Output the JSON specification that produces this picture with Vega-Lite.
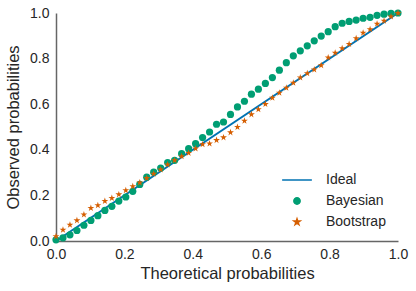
{
  "$schema": "https://vega.github.io/schema/vega-lite/v6.json",
  "autosize": {"type": "none"},
  "padding": {"left": 56, "top": 13, "right": 18, "bottom": 50},
  "width": 342,
  "height": 228,
  "background": "white",
  "config": {
    "view": {"stroke": null},
    "axis": {
      "domainColor": "#666666",
      "domainWidth": 1.5,
      "ticks": false,
      "grid": false,
      "labelFlush": false,
      "labelFont": "Liberation Sans",
      "labelFontSize": 14,
      "labelColor": "#262626",
      "titleFont": "Liberation Sans",
      "titleFontSize": 16.5,
      "titleFontWeight": "normal",
      "titleColor": "#262626",
      "labelPadding": 6
    }
  },
  "data": {"values": [
      {"x": 0, "y": 0, "series": "Ideal"},
      {"x": 1, "y": 1, "series": "Ideal"},
      {"x": 0.0, "y": 0.005, "series": "Bayesian"},
      {"x": 0.0204, "y": 0.014, "series": "Bayesian"},
      {"x": 0.0408, "y": 0.027, "series": "Bayesian"},
      {"x": 0.0612, "y": 0.046, "series": "Bayesian"},
      {"x": 0.0816, "y": 0.069, "series": "Bayesian"},
      {"x": 0.102, "y": 0.09, "series": "Bayesian"},
      {"x": 0.1224, "y": 0.111, "series": "Bayesian"},
      {"x": 0.1429, "y": 0.134, "series": "Bayesian"},
      {"x": 0.1633, "y": 0.152, "series": "Bayesian"},
      {"x": 0.1837, "y": 0.175, "series": "Bayesian"},
      {"x": 0.2041, "y": 0.193, "series": "Bayesian"},
      {"x": 0.2245, "y": 0.218, "series": "Bayesian"},
      {"x": 0.2449, "y": 0.248, "series": "Bayesian"},
      {"x": 0.2653, "y": 0.28, "series": "Bayesian"},
      {"x": 0.2857, "y": 0.302, "series": "Bayesian"},
      {"x": 0.3061, "y": 0.32, "series": "Bayesian"},
      {"x": 0.3265, "y": 0.344, "series": "Bayesian"},
      {"x": 0.3469, "y": 0.354, "series": "Bayesian"},
      {"x": 0.3673, "y": 0.383, "series": "Bayesian"},
      {"x": 0.3878, "y": 0.405, "series": "Bayesian"},
      {"x": 0.4082, "y": 0.427, "series": "Bayesian"},
      {"x": 0.4286, "y": 0.454, "series": "Bayesian"},
      {"x": 0.449, "y": 0.478, "series": "Bayesian"},
      {"x": 0.4694, "y": 0.512, "series": "Bayesian"},
      {"x": 0.4898, "y": 0.522, "series": "Bayesian"},
      {"x": 0.5102, "y": 0.555, "series": "Bayesian"},
      {"x": 0.5306, "y": 0.588, "series": "Bayesian"},
      {"x": 0.551, "y": 0.613, "series": "Bayesian"},
      {"x": 0.5714, "y": 0.644, "series": "Bayesian"},
      {"x": 0.5918, "y": 0.666, "series": "Bayesian"},
      {"x": 0.6122, "y": 0.691, "series": "Bayesian"},
      {"x": 0.6327, "y": 0.717, "series": "Bayesian"},
      {"x": 0.6531, "y": 0.749, "series": "Bayesian"},
      {"x": 0.6735, "y": 0.782, "series": "Bayesian"},
      {"x": 0.6939, "y": 0.812, "series": "Bayesian"},
      {"x": 0.7143, "y": 0.834, "series": "Bayesian"},
      {"x": 0.7347, "y": 0.856, "series": "Bayesian"},
      {"x": 0.7551, "y": 0.878, "series": "Bayesian"},
      {"x": 0.7755, "y": 0.899, "series": "Bayesian"},
      {"x": 0.7959, "y": 0.918, "series": "Bayesian"},
      {"x": 0.8163, "y": 0.94, "series": "Bayesian"},
      {"x": 0.8367, "y": 0.955, "series": "Bayesian"},
      {"x": 0.8571, "y": 0.963, "series": "Bayesian"},
      {"x": 0.8776, "y": 0.969, "series": "Bayesian"},
      {"x": 0.898, "y": 0.977, "series": "Bayesian"},
      {"x": 0.9184, "y": 0.981, "series": "Bayesian"},
      {"x": 0.9388, "y": 0.99, "series": "Bayesian"},
      {"x": 0.9592, "y": 0.995, "series": "Bayesian"},
      {"x": 0.9796, "y": 0.998, "series": "Bayesian"},
      {"x": 1.0, "y": 1.0, "series": "Bayesian"},
      {"x": 0.0, "y": 0.02, "series": "Bootstrap"},
      {"x": 0.0204, "y": 0.049, "series": "Bootstrap"},
      {"x": 0.0408, "y": 0.071, "series": "Bootstrap"},
      {"x": 0.0612, "y": 0.09, "series": "Bootstrap"},
      {"x": 0.0816, "y": 0.116, "series": "Bootstrap"},
      {"x": 0.102, "y": 0.144, "series": "Bootstrap"},
      {"x": 0.1224, "y": 0.156, "series": "Bootstrap"},
      {"x": 0.1429, "y": 0.175, "series": "Bootstrap"},
      {"x": 0.1633, "y": 0.188, "series": "Bootstrap"},
      {"x": 0.1837, "y": 0.204, "series": "Bootstrap"},
      {"x": 0.2041, "y": 0.222, "series": "Bootstrap"},
      {"x": 0.2245, "y": 0.24, "series": "Bootstrap"},
      {"x": 0.2449, "y": 0.256, "series": "Bootstrap"},
      {"x": 0.2653, "y": 0.276, "series": "Bootstrap"},
      {"x": 0.2857, "y": 0.295, "series": "Bootstrap"},
      {"x": 0.3061, "y": 0.313, "series": "Bootstrap"},
      {"x": 0.3265, "y": 0.335, "series": "Bootstrap"},
      {"x": 0.3469, "y": 0.354, "series": "Bootstrap"},
      {"x": 0.3673, "y": 0.371, "series": "Bootstrap"},
      {"x": 0.3878, "y": 0.386, "series": "Bootstrap"},
      {"x": 0.4082, "y": 0.405, "series": "Bootstrap"},
      {"x": 0.4286, "y": 0.424, "series": "Bootstrap"},
      {"x": 0.449, "y": 0.427, "series": "Bootstrap"},
      {"x": 0.4694, "y": 0.442, "series": "Bootstrap"},
      {"x": 0.4898, "y": 0.454, "series": "Bootstrap"},
      {"x": 0.5102, "y": 0.476, "series": "Bootstrap"},
      {"x": 0.5306, "y": 0.5, "series": "Bootstrap"},
      {"x": 0.551, "y": 0.527, "series": "Bootstrap"},
      {"x": 0.5714, "y": 0.555, "series": "Bootstrap"},
      {"x": 0.5918, "y": 0.577, "series": "Bootstrap"},
      {"x": 0.6122, "y": 0.6, "series": "Bootstrap"},
      {"x": 0.6327, "y": 0.628, "series": "Bootstrap"},
      {"x": 0.6531, "y": 0.65, "series": "Bootstrap"},
      {"x": 0.6735, "y": 0.672, "series": "Bootstrap"},
      {"x": 0.6939, "y": 0.694, "series": "Bootstrap"},
      {"x": 0.7143, "y": 0.717, "series": "Bootstrap"},
      {"x": 0.7347, "y": 0.735, "series": "Bootstrap"},
      {"x": 0.7551, "y": 0.752, "series": "Bootstrap"},
      {"x": 0.7755, "y": 0.77, "series": "Bootstrap"},
      {"x": 0.7959, "y": 0.804, "series": "Bootstrap"},
      {"x": 0.8163, "y": 0.825, "series": "Bootstrap"},
      {"x": 0.8367, "y": 0.845, "series": "Bootstrap"},
      {"x": 0.8571, "y": 0.864, "series": "Bootstrap"},
      {"x": 0.8776, "y": 0.889, "series": "Bootstrap"},
      {"x": 0.898, "y": 0.913, "series": "Bootstrap"},
      {"x": 0.9184, "y": 0.928, "series": "Bootstrap"},
      {"x": 0.9388, "y": 0.952, "series": "Bootstrap"},
      {"x": 0.9592, "y": 0.966, "series": "Bootstrap"},
      {"x": 0.9796, "y": 0.984, "series": "Bootstrap"},
      {"x": 1.0, "y": 1.0, "series": "Bootstrap"}
  ]},
  "encoding": {
    "x": {"field": "x", "type": "quantitative", "scale": {"domain": [0, 1], "nice": false, "zero": false},
          "axis": {"title": "Theoretical probabilities", "values": [0, 0.2, 0.4, 0.6, 0.8, 1.0], "format": ".1f", "titlePadding": 4}},
    "y": {"field": "y", "type": "quantitative", "scale": {"domain": [0, 1], "nice": false, "zero": false},
          "axis": {"title": "Observed probabilities", "values": [0, 0.2, 0.4, 0.6, 0.8, 1.0], "format": ".1f", "titlePadding": 8, "labelPadding": 7}}
  },
  "layer": [
    {
      "transform": [{"filter": "datum.series === 'Ideal'"}],
      "mark": {"type": "line", "color": "#0072B2", "strokeWidth": 2}
    },
    {
      "transform": [{"filter": "datum.series !== 'Ideal'"}],
      "mark": {"type": "point", "filled": true, "opacity": 1, "size": 52, "clip": false},
      "encoding": {
        "color": {
          "field": "series", "type": "nominal",
          "scale": {"domain": ["Ideal", "Bayesian", "Bootstrap"], "range": ["#0072B2", "#009E73", "#D55E00"]},
          "legend": {
            "title": null,
            "orient": "none",
            "legendX": 234,
            "legendY": 160,
            "padding": 0,
            "labelFontSize": 14,
            "labelColor": "#262626",
            "labelFont": "Liberation Sans",
            "labelOffset": 22,
            "rowPadding": 7,
            "symbolSize": 40,
            "symbolOpacity": 1,
            "encode": {
              "symbols": {"update": {"stroke": {"scale": "color", "field": "value"}, "strokeWidth": {"value": 1.5}}}
            }
          }
        },
        "shape": {
          "field": "series", "type": "nominal",
          "scale": {"domain": ["Ideal", "Bayesian", "Bootstrap"], "range": ["M-4.7,0L4.7,0", "circle", "M0,-1L0.2245,-0.309L0.9511,-0.309L0.3633,0.118L0.5878,0.809L0,0.382L-0.5878,0.809L-0.3633,0.118L-0.9511,-0.309L-0.2245,-0.309Z"]}
        }
      }
    }
  ]
}
